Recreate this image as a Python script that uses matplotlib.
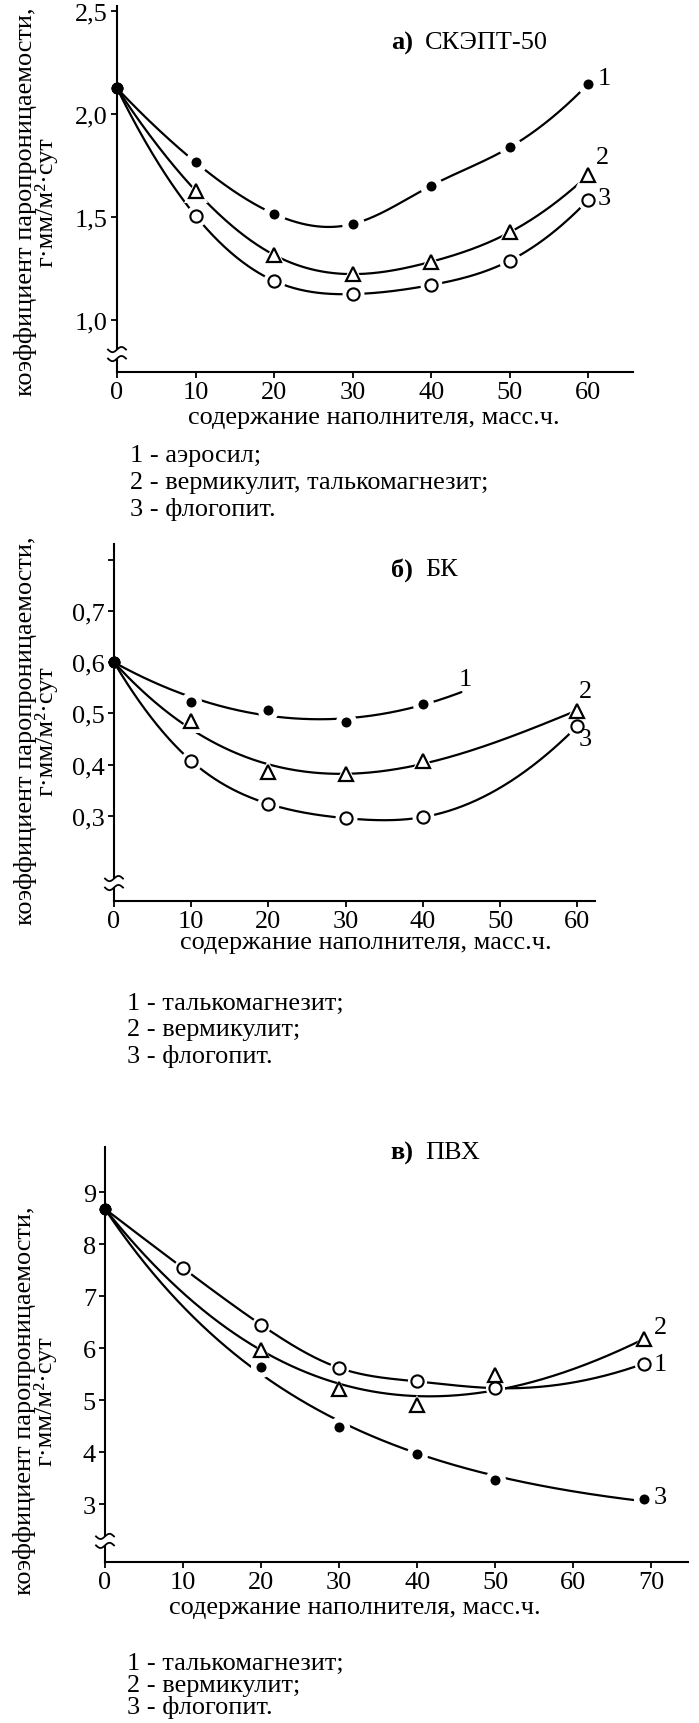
import numpy as np
import matplotlib
matplotlib.use("Agg")
import matplotlib.pyplot as plt
from matplotlib.patches import Rectangle
from matplotlib.transforms import IdentityTransform
from matplotlib.ticker import FuncFormatter

plt.rcParams['font.family'] = ['Liberation Serif', 'DejaVu Serif']

# ---------------- data ----------------
# panel a) СКЭПТ-50
a_x = [0, 10, 20, 30, 40, 50, 60]
a_s1 = [2.125, 1.766, 1.515, 1.466, 1.652, 1.838, 2.146]   # аэросил
a_s2 = [2.125, 1.628, 1.316, 1.223, 1.283, 1.426, 1.704]   # вермикулит, талькомагнезит
a_s3 = [2.125, 1.506, 1.190, 1.126, 1.170, 1.288, 1.583]   # флогопит
a_legend = ['1 - аэросил;', '2 - вермикулит, талькомагнезит;', '3 - флогопит.']
a_yticks = [1.0, 1.5, 2.0, 2.5]
a_xticks = [0, 10, 20, 30, 40, 50, 60]

# panel б) БК
b_x1 = [0, 10, 20, 30, 40]
b_s1 = [0.600, 0.523, 0.507, 0.484, 0.518]                 # талькомагнезит
b_x = [0, 10, 20, 30, 40, 60]
b_s2 = [0.600, 0.486, 0.385, 0.381, 0.407, 0.505]          # вермикулит
b_s3 = [0.600, 0.407, 0.323, 0.295, 0.297, 0.475]          # флогопит
b_legend = ['1 - талькомагнезит;', '2 - вермикулит;', '3 - флогопит.']
b_yticks = [0.3, 0.4, 0.5, 0.6, 0.7, 0.8]
b_xticks = [0, 10, 20, 30, 40, 50, 60]

# panel в) ПВХ
c_x1 = [0, 10, 20, 30, 40, 50, 69]
c_s1 = [8.68, 7.54, 6.45, 5.62, 5.36, 5.23, 5.70]          # талькомагнезит
c_x = [0, 20, 30, 40, 50, 69]
c_s2 = [8.68, 5.97, 5.22, 4.90, 5.49, 6.17]                # вермикулит
c_s3 = [8.68, 5.63, 4.48, 3.97, 3.47, 3.09]                # флогопит
c_legend = ['1 - талькомагнезит;', '2 - вермикулит;', '3 - флогопит.']
c_yticks = [3, 4, 5, 6, 7, 8, 9]
c_xticks = [0, 10, 20, 30, 40, 50, 60, 70]

xlabel = 'содержание наполнителя, масс.ч.'
ylabel = 'коэффициент паропроницаемости,\nг·мм/м²·сут'

# ---------------- layout helpers ----------------
W, H, DPI = 699, 1724, 100
FS = 18.9
fig = plt.figure(figsize=(W / DPI, H / DPI), dpi=DPI)
fig.patch.set_facecolor('white')


def fx(x):
    return x / W


def fy(y):
    return 1 - y / H


def runout_spline(x, y, xs):
    """cubic spline with parabolic run-out end conditions"""
    x = np.asarray(x, float)
    y = np.asarray(y, float)
    n = len(x)
    h = np.diff(x)
    A = np.zeros((n, n))
    r = np.zeros(n)
    A[0, 0], A[0, 1] = 1, -1
    A[-1, -1], A[-1, -2] = 1, -1
    for i in range(1, n - 1):
        A[i, i - 1] = h[i - 1]
        A[i, i] = 2 * (h[i - 1] + h[i])
        A[i, i + 1] = h[i]
        r[i] = 3 * ((y[i + 1] - y[i]) / h[i] - (y[i] - y[i - 1]) / h[i - 1])
    c = np.linalg.solve(A, r)
    b = (y[1:] - y[:-1]) / h - h * (2 * c[:-1] + c[1:]) / 3
    d = (c[1:] - c[:-1]) / (3 * h)
    idx = np.clip(np.searchsorted(x, xs) - 1, 0, n - 2)
    dx = xs - x[idx]
    return y[idx] + b[idx] * dx + c[idx] * dx ** 2 + d[idx] * dx ** 3


def exp_fit(x, y, xs):
    """least-squares fit of y = a + b*exp(-k x) (trend line through data)"""
    best = None
    for a in np.linspace(y.min() - 3, y.min() - 0.01, 300):
        w = np.ones(len(x))
        w[0] = 10
        k, lb = np.polyfit(x, np.log(y - a), 1, w=w)
        pred = a + np.exp(lb + k * x)
        err = np.sum(w * (pred - y) ** 2)
        if best is None or err < best[0]:
            best = (err, a, k, lb)
    _, a, k, lb = best
    return a + np.exp(lb + k * xs)


def smooth(x, y, fit, x_end=None, weights=None, n=400):
    x = np.asarray(x, float)
    y = np.asarray(y, float)
    xe = x[-1] if x_end is None else x_end
    xs = np.linspace(x[0], xe, n)
    if fit == 'spline':
        ys = runout_spline(x, y, xs)
    elif fit == 'exp':
        ys = exp_fit(x, y, xs)
    else:
        if weights is None:
            w = np.ones(len(x))
            w[0] = 10
        else:
            w = np.asarray(weights, float)
        ys = np.polyval(np.polyfit(x, y, fit, w=w), xs)
    return xs, ys


DOT = dict(marker='o', ms=7.2, mfc='black', mec='black', mew=0)
CIRC = dict(marker='o', ms=8.8, mfc='white', mec='black', mew=1.5)
TRI = dict(marker='^', ms=10, mfc='white', mec='black', mew=1.6)


def series(ax, x, y, style, fit, halo, x_end=None, weights=None):
    xs, ys = smooth(x, y, fit, x_end, weights)
    ax.plot(xs, ys, color='black', lw=1.6, zorder=2, clip_on=False,
            solid_capstyle='round')
    hx, hy = x[1:], y[1:]
    ax.plot(hx, hy, linestyle='none', marker=style['marker'],
            ms=style['ms'] + halo, mfc='white', mec='white', mew=0,
            zorder=3, clip_on=False)
    ax.plot(hx, hy, linestyle='none', zorder=4, clip_on=False, **style)
    ax.plot([x[0]], [y[0]], linestyle='none', marker='o', ms=7.5,
            color='black', zorder=5, clip_on=False)


def axis_break(ax, yval):
    x0, y0 = ax.transData.transform((ax.get_xlim()[0], yval))
    gap = 4.5
    fig.add_artist(Rectangle((x0 - 4, y0 - gap), 8, 2 * gap,
                             facecolor='white', edgecolor='none',
                             transform=IdentityTransform(), zorder=10))
    t = np.linspace(-1, 1, 40)
    for off in (-gap, gap):
        fig.add_artist(plt.Line2D(x0 + 9 * t, y0 + off + 2.6 * np.sin(np.pi * t),
                                  color='black', lw=1.3,
                                  transform=IdentityTransform(), zorder=11))


def comma_fmt(dec):
    def f(v, pos):
        s = f'{v:.{dec}f}'
        return s.replace('.', ',')
    return FuncFormatter(f)


def make_axes(l, r, t, b, xlim, ylim, xticks, yticks, dec, hide_top_label=False):
    ax = fig.add_axes([fx(l), fy(b), fx(r - l), (b - t) / H])
    ax.set_xlim(*xlim)
    ax.set_ylim(*ylim)
    for s in ('top', 'right'):
        ax.spines[s].set_visible(False)
    for s in ('left', 'bottom'):
        ax.spines[s].set_linewidth(1.5)
    ax.set_xticks(xticks)
    ax.set_yticks(yticks)
    if hide_top_label:
        def f(v, pos):
            if abs(v - yticks[-1]) < 1e-9:
                return ''
            return f'{v:.{dec}f}'.replace('.', ',')
        ax.yaxis.set_major_formatter(FuncFormatter(f))
    else:
        ax.yaxis.set_major_formatter(comma_fmt(dec))
    ax.tick_params(direction='out', length=4.5, width=1.3, labelsize=FS, pad=2)
    ax.set_facecolor('none')
    return ax


def title(xl, y, bold, rest):
    fig.text(fx(xl), fy(y), bold, ha='right', va='center', fontsize=FS,
             fontweight='bold')
    fig.text(fx(xl + 12), fy(y), rest, ha='left', va='center', fontsize=FS)


def xlab(ax, xfrac, yfrac):
    ax.set_xlabel(xlabel, fontsize=FS)
    ax.xaxis.label.set_va('center')
    ax.xaxis.set_label_coords(xfrac, yfrac)


def ylab(x, y):
    fig.text(fx(x), fy(y), ylabel, rotation=90, ha='center', va='center',
             multialignment='center', fontsize=FS, linespacing=0.85)


def legend_lines(x, ys, lines):
    for yy, s in zip(ys, lines):
        fig.text(fx(x), fy(yy + 9), s, ha='left', va='baseline', fontsize=FS)


# ---------------- panel a ----------------
axa = make_axes(117, 633, 7, 373, (0, 65.7), (0.748, 2.524),
                a_xticks, a_yticks, 1)
series(axa, a_x, a_s1, DOT, 'spline', 9)
series(axa, a_x, a_s2, TRI, 'spline', 7)
series(axa, a_x, a_s3, CIRC, 'spline', 7)
axis_break(axa, 0.835)
axa.text(62.0, 2.175, '1', fontsize=FS, ha='center', va='center')
axa.text(61.8, 1.79, '2', fontsize=FS, ha='center', va='center')
axa.text(62.0, 1.592, '3', fontsize=FS, ha='center', va='center')
title(413, 43, 'а)', 'СКЭПТ-50')
xlab(axa, 0.497, -0.123)
ylab(36, 202)
legend_lines(130, [453, 480, 507], a_legend)

# ---------------- panel б ----------------
axb = make_axes(114, 595, 545, 901.7, (0, 62.3), (0.1335, 0.8315),
                b_xticks, b_yticks, 1, hide_top_label=True)
series(axb, b_x1, b_s1, DOT, 2, 8, x_end=45)
series(axb, b_x, b_s2, TRI, 3, 7)
series(axb, b_x, b_s3, CIRC, 'spline', 7)
axis_break(axb, 0.168)
axb.text(45.5, 0.567, '1', fontsize=FS, ha='center', va='center')
axb.text(61.0, 0.544, '2', fontsize=FS, ha='center', va='center')
axb.text(61.0, 0.450, '3', fontsize=FS, ha='center', va='center')
title(413, 570, 'б)', 'БК')
xlab(axb, 0.523, -0.116)
ylab(36, 731)
legend_lines(127, [1001, 1027, 1054], b_legend)

# ---------------- panel в ----------------
axc = make_axes(105, 688, 1148, 1563.3, (0, 74.7), (1.878, 9.872),
                c_xticks, c_yticks, 0)
series(axc, c_x1, c_s1, CIRC, 'spline', 5)
series(axc, c_x, c_s2, TRI, 3, 5, weights=[10, 6, 2, 1, 1, 4])
series(axc, c_x, c_s3, DOT, 'exp', 8)
axis_break(axc, 2.29)
axc.text(71.2, 6.41, '2', fontsize=FS, ha='center', va='center')
axc.text(71.2, 5.70, '1', fontsize=FS, ha='center', va='center')
axc.text(71.2, 3.13, '3', fontsize=FS, ha='center', va='center')
title(413, 1153, 'в)', 'ПВХ')
xlab(axc, 0.429, -0.1076)
ylab(35, 1401)
legend_lines(127, [1661, 1683, 1705], c_legend)

fig.savefig('out.png', dpi=DPI, facecolor='white')
